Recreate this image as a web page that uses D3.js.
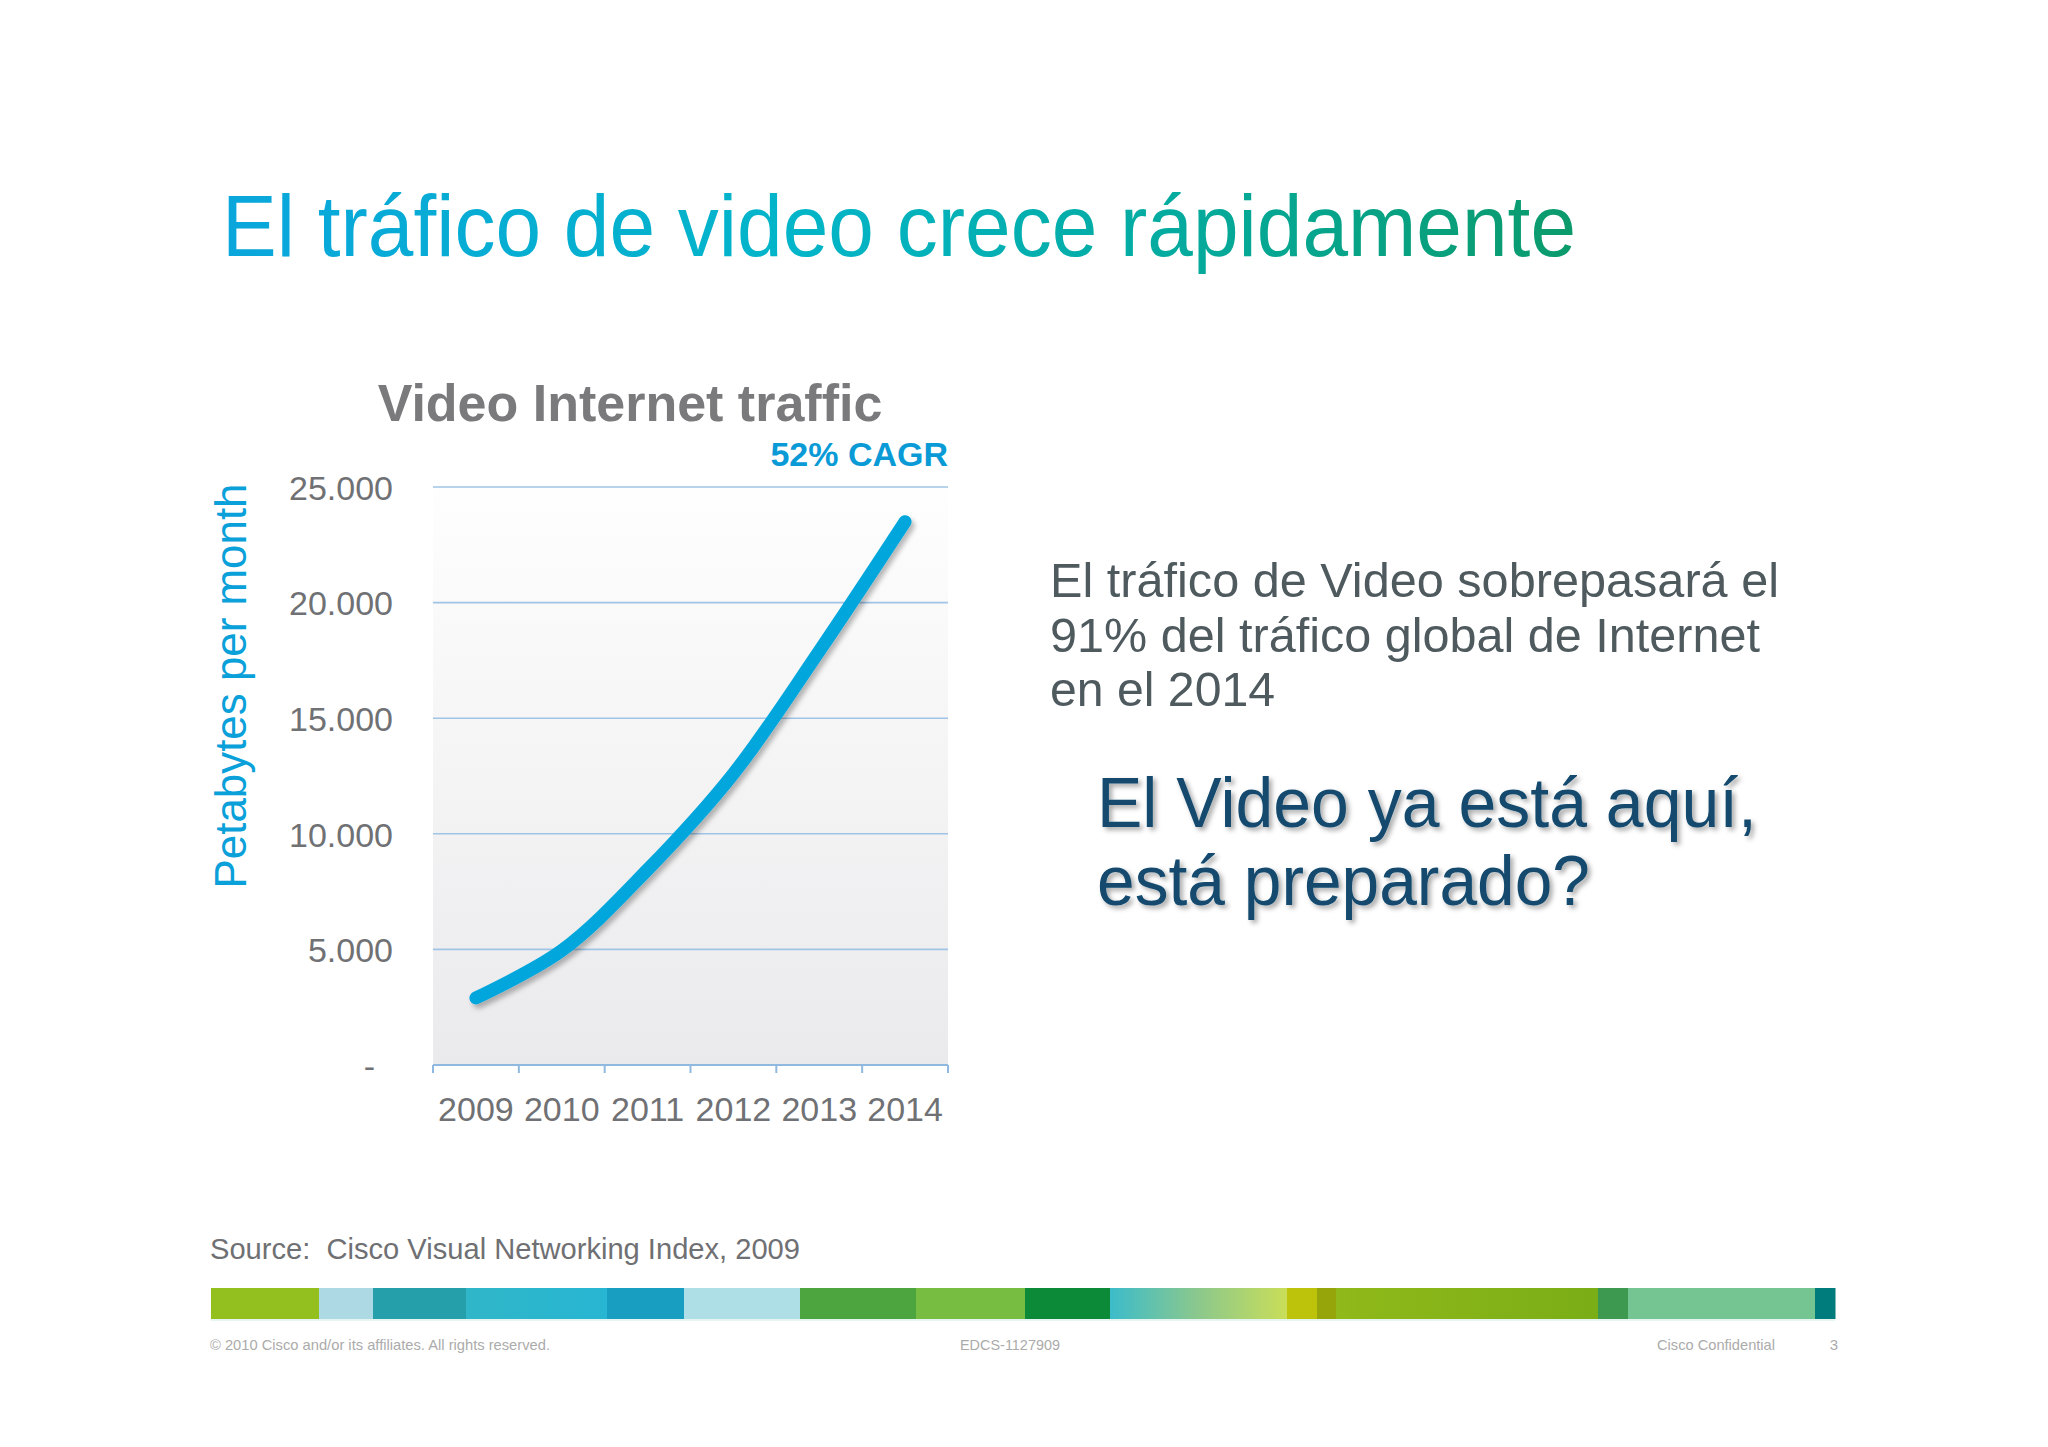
<!DOCTYPE html>
<html>
<head>
<meta charset="utf-8">
<script src="https://cdn.jsdelivr.net/npm/d3@7"></script>
<style>
  html, body { margin: 0; padding: 0; background: #ffffff; }
  svg { display: block; }
  text { font-family: "Liberation Sans", Arial, Helvetica, sans-serif; }
</style>
</head>
<body>
<svg id="chart" width="2048" height="1447"></svg>
<script>
// ---------- data ----------
const years = ["2009", "2010", "2011", "2012", "2013", "2014"];
const videoTraffic = [2900, 4950, 8450, 12600, 17900, 23500]; // petabytes per month
const yTicks = [0, 5000, 10000, 15000, 20000, 25000];
const yTickLabels = ["-", "5.000", "10.000", "15.000", "20.000", "25.000"];

const slideTitle = "El tráfico de video crece rápidamente";
const chartTitle = "Video Internet traffic";
const cagrLabel = "52% CAGR";
const yAxisTitle = "Petabytes per month";
const sideText = ["El tráfico de Video sobrepasará el", "91% del tráfico global de Internet", "en el 2014"];
const bigText = ["El Video ya está aquí,", "está preparado?"];
const sourceText = "Source:  Cisco Visual Networking Index, 2009";
const footerLeft = "© 2010 Cisco and/or its affiliates. All rights reserved.";
const footerMid = "EDCS-1127909";
const footerRight = "Cisco Confidential";
const pageNumber = "3";

// decorative footer stripe: [start, end, colour(s)]
const stripe = [
  [211, 319, ["#93c01f"]],
  [319, 373, ["#acd9e4"]],
  [373, 466, ["#25a0aa"]],
  [466, 607, ["#30b6c8", "#27b6d3"]],
  [607, 684, ["#189ec0"]],
  [684, 800, ["#aedfe6"]],
  [800, 916, ["#4ca53e"]],
  [916, 1025, ["#76bd42"]],
  [1025, 1110, ["#0d8a38"]],
  [1110, 1287, ["#3cbcca", "#8cc88c", "#cade58"]],
  [1287, 1317, ["#bcc30a"]],
  [1317, 1336, ["#95a50a"]],
  [1336, 1598, ["#90b91a", "#7aad16"]],
  [1598, 1628, ["#3d9950"]],
  [1628, 1815, ["#74c592"]],
  [1815, 1835, ["#007c7c"]]
];

// ---------- setup ----------
const svg = d3.select("#chart");
const defs = svg.append("defs");

const plot = { left: 433, right: 948, top: 487, bottom: 1065 };

const x = d3.scaleBand().domain(years).range([plot.left, plot.right]).padding(0);
const y = d3.scaleLinear().domain([0, 25000]).range([plot.bottom, plot.top]);

// gradients & filters
const tg = defs.append("linearGradient").attr("id", "titleGrad")
  .attr("gradientUnits", "userSpaceOnUse").attr("x1", 222).attr("x2", 1576).attr("y1", 0).attr("y2", 0);
tg.append("stop").attr("offset", 0).attr("stop-color", "#0aa6dc");
tg.append("stop").attr("offset", 0.42).attr("stop-color", "#03b5c9");
tg.append("stop").attr("offset", 0.7).attr("stop-color", "#04ab9f");
tg.append("stop").attr("offset", 1).attr("stop-color", "#0b9a6b");

const bg = defs.append("linearGradient").attr("id", "plotBg")
  .attr("x1", 0).attr("x2", 0).attr("y1", 0).attr("y2", 1);
bg.append("stop").attr("offset", 0).attr("stop-color", "#fefefe");
bg.append("stop").attr("offset", 1).attr("stop-color", "#eaeaec");

const ls = defs.append("filter").attr("id", "lineShadow")
  .attr("x", "-20%").attr("y", "-20%").attr("width", "140%").attr("height", "140%");
ls.append("feDropShadow").attr("dx", 3).attr("dy", 4).attr("stdDeviation", 2.5)
  .attr("flood-color", "#000").attr("flood-opacity", 0.28);

const ts = defs.append("filter").attr("id", "textShadow")
  .attr("x", "-10%").attr("y", "-20%").attr("width", "120%").attr("height", "150%");
ts.append("feDropShadow").attr("dx", 3).attr("dy", 3).attr("stdDeviation", 2.5)
  .attr("flood-color", "#000").attr("flood-opacity", 0.35);

// ---------- slide title ----------
svg.append("text").attr("x", 222).attr("y", 256)
  .attr("font-size", 88).attr("fill", "url(#titleGrad)")
  .attr("textLength", 1354).attr("lengthAdjust", "spacingAndGlyphs")
  .text(slideTitle);

// ---------- chart ----------
svg.append("rect")
  .attr("x", plot.left).attr("y", plot.top)
  .attr("width", plot.right - plot.left).attr("height", plot.bottom - plot.top)
  .attr("fill", "url(#plotBg)");

// gridlines
svg.append("g").selectAll("line")
  .data(yTicks.filter(d => d > 0))
  .join("line")
  .attr("x1", plot.left).attr("x2", plot.right)
  .attr("y1", d => y(d)).attr("y2", d => y(d))
  .attr("stroke", "#9fc4e6").attr("stroke-width", 1.6);

// y axis labels
const yAxis = d3.axisLeft(y).tickValues(yTicks)
  .tickFormat((d, i) => yTickLabels[i]).tickSize(0).tickPadding(40);
const yg = svg.append("g").attr("transform", `translate(${plot.left},0)`).call(yAxis);
yg.select(".domain").remove();
yg.selectAll("text")
  .attr("font-family", "'Liberation Sans', Arial, sans-serif")
  .attr("font-size", 34).attr("fill", "#707174")
  .attr("dy", "0.36em")
  .attr("x", (d) => d === 0 ? -58 : -40);

// x axis: line + boundary ticks
const xg = svg.append("g").attr("transform", `translate(0,${plot.bottom})`);
xg.append("line").attr("x1", plot.left).attr("x2", plot.right)
  .attr("y1", 0).attr("y2", 0).attr("stroke", "#8fb9de").attr("stroke-width", 2.2);
const bounds = years.map(d => x(d)).concat([x(years[years.length - 1]) + x.bandwidth()]);
xg.selectAll("line.tick").data(bounds).join("line").attr("class", "tick")
  .attr("x1", d => d).attr("x2", d => d).attr("y1", 0).attr("y2", 8)
  .attr("stroke", "#8fb9de").attr("stroke-width", 2);

const xAxis = d3.axisBottom(x).tickSize(0).tickPadding(0);
const xl = svg.append("g").attr("transform", `translate(0,${plot.bottom})`).call(xAxis);
xl.select(".domain").remove();
xl.selectAll("text")
  .attr("font-family", "'Liberation Sans', Arial, sans-serif")
  .attr("font-size", 34).attr("fill", "#707174")
  .attr("dy", null).attr("y", 56);

// line
const lineGen = d3.line()
  .x((d, i) => x(years[i]) + x.bandwidth() / 2)
  .y(d => y(d))
  .curve(d3.curveCatmullRom.alpha(0.5));
svg.append("path").datum(videoTraffic)
  .attr("d", lineGen)
  .attr("fill", "none").attr("stroke", "#04a6dc").attr("stroke-width", 13)
  .attr("stroke-linecap", "round").attr("stroke-linejoin", "round")
  .attr("filter", "url(#lineShadow)");

// chart titles
svg.append("text").attr("x", 630).attr("y", 421).attr("text-anchor", "middle")
  .attr("font-size", 52).attr("font-weight", "bold").attr("fill", "#7a7a7c")
  .text(chartTitle);
svg.append("text").attr("x", 948).attr("y", 466).attr("text-anchor", "end")
  .attr("font-size", 34).attr("font-weight", "bold").attr("fill", "#0a9bd7")
  .text(cagrLabel);

// y axis title
svg.append("text")
  .attr("transform", "translate(246,686) rotate(-90)")
  .attr("text-anchor", "middle")
  .attr("font-size", 45).attr("fill", "#0aa0d9")
  .attr("textLength", 405).attr("lengthAdjust", "spacingAndGlyphs")
  .text(yAxisTitle);

// ---------- right side text ----------
const sideLens = [729, 710, 225];
svg.append("g").selectAll("text").data(sideText).join("text")
  .attr("x", 1050).attr("y", (d, i) => 597 + i * 54.5)
  .attr("font-size", 48).attr("fill", "#4f5a5f")
  .attr("textLength", (d, i) => sideLens[i]).attr("lengthAdjust", "spacingAndGlyphs")
  .text(d => d);

const bigLens = [660, 493];
svg.append("g").attr("filter", "url(#textShadow)")
  .selectAll("text").data(bigText).join("text")
  .attr("x", 1097).attr("y", (d, i) => 827 + i * 78)
  .attr("font-size", 70).attr("fill", "#124a6e")
  .attr("textLength", (d, i) => bigLens[i]).attr("lengthAdjust", "spacingAndGlyphs")
  .text(d => d);

// ---------- source ----------
svg.append("text").attr("x", 210).attr("y", 1259)
  .attr("font-size", 29).attr("fill", "#6f7073")
  .style("white-space", "pre")
  .attr("textLength", 590).attr("lengthAdjust", "spacingAndGlyphs")
  .text(sourceText);

// ---------- stripe ----------
stripe.forEach((s, i) => {
  let fill = s[2][0];
  if (s[2].length > 1) {
    const g = defs.append("linearGradient").attr("id", "sg" + i)
      .attr("x1", 0).attr("x2", 1).attr("y1", 0).attr("y2", 0);
    s[2].forEach((c, j) => g.append("stop").attr("offset", j / (s[2].length - 1)).attr("stop-color", c));
    fill = `url(#sg${i})`;
  }
  svg.append("rect").attr("x", s[0]).attr("y", 1288)
    .attr("width", s[1] - s[0] + 0.5).attr("height", 31).attr("fill", fill);
});
svg.append("rect").attr("x", 211).attr("y", 1319).attr("width", 1624).attr("height", 2)
  .attr("fill", "#e6f4f2");

// ---------- footer ----------
svg.append("text").attr("x", 210).attr("y", 1350).attr("font-size", 15).attr("fill", "#ababab")
  .attr("textLength", 340).attr("lengthAdjust", "spacingAndGlyphs").text(footerLeft);
svg.append("text").attr("x", 960).attr("y", 1350).attr("font-size", 15).attr("fill", "#ababab")
  .attr("textLength", 100).attr("lengthAdjust", "spacingAndGlyphs").text(footerMid);
svg.append("text").attr("x", 1657).attr("y", 1350).attr("font-size", 15).attr("fill", "#ababab")
  .attr("textLength", 118).attr("lengthAdjust", "spacingAndGlyphs").text(footerRight);
svg.append("text").attr("x", 1838).attr("y", 1350).attr("text-anchor", "end").attr("font-size", 15).attr("fill", "#ababab")
  .text(pageNumber);
</script>
</body>
</html>
